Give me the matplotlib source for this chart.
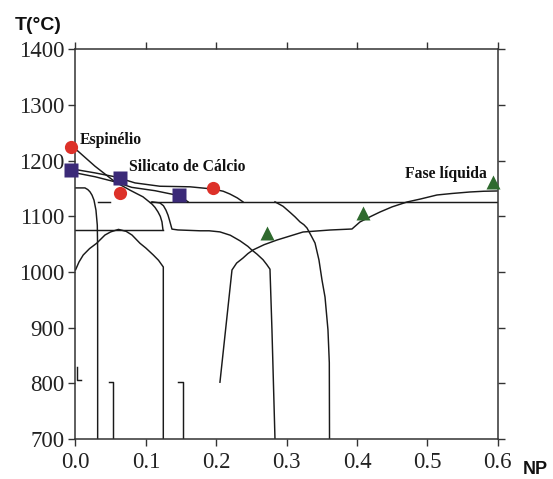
import matplotlib
matplotlib.use("Agg")
import matplotlib.pyplot as plt

# ---------------- data ----------------
x_ticks = [0.0, 0.1, 0.2, 0.3, 0.4, 0.5, 0.6]
x_tick_labels = ["0.0", "0.1", "0.2", "0.3", "0.4", "0.5", "0.6"]
y_ticks = [700, 800, 900, 1000, 1100, 1200, 1300, 1400]
y_tick_labels = ["700", "800", "900", "1000", "1100", "1200", "1300", "1400"]

# marker series
espinelio_x = [-0.006, 0.063, 0.196]
espinelio_T = [1225, 1142, 1151]
silicato_x = [-0.006, 0.063, 0.147]
silicato_T = [1183, 1169, 1138]
liquida_x = [0.272, 0.409, 0.594]
liquida_T = [1070, 1106, 1161]

# phase boundary curves
curve_esp_x = [0.0, 0.0277, 0.0561, 0.0774, 0.0959, 0.1087, 0.113, 0.1172, 0.1205, 0.1229, 0.1243]
curve_esp_T = [1221, 1190, 1162, 1147, 1135, 1122, 1116, 1108, 1100, 1090, 1076]

curve_u1_x = [0.0, 0.0277, 0.0561, 0.0846, 0.120, 0.1627, 0.1954, 0.210, 0.2195, 0.230, 0.238]
curve_u1_T = [1184, 1178, 1171, 1160, 1154, 1153, 1149, 1145, 1140, 1133, 1126]

curve_u2_x = [0.0, 0.028, 0.056, 0.080, 0.113, 0.140, 0.152, 0.160]
curve_u2_T = [1178, 1171, 1162, 1152, 1146, 1139, 1133, 1126]

curve_c_x = [0.0, 0.0135, 0.0175, 0.0206, 0.0235, 0.0263, 0.0291, 0.031, 0.0315, 0.0315]
curve_c_T = [1151, 1151, 1148, 1144, 1138, 1129, 1111, 1084, 1040, 700]

iso1126a_x = [0.0315, 0.049]
iso1126a_T = [1126, 1126]
iso1126b_x = [0.106, 0.6]
iso1126b_T = [1126, 1126]
iso1076_x = [0.0, 0.1243]
iso1076_T = [1076, 1076]

curve_e_x = [0.1087, 0.120, 0.125, 0.1286, 0.1315, 0.1336, 0.1371, 0.1456, 0.1769, 0.190,
             0.2053, 0.220, 0.2338, 0.245, 0.2501, 0.258, 0.2665, 0.272, 0.2764, 0.2792, 0.2835]
curve_e_T = [1126, 1124, 1119, 1111, 1102, 1093, 1077, 1075.5, 1074, 1074,
             1072, 1066, 1056, 1046, 1040, 1032, 1022, 1013, 1005, 896, 700]

dome_f_x = [0.0, 0.005, 0.011, 0.020, 0.030, 0.0419, 0.050, 0.0611, 0.072, 0.0803,
            0.0917, 0.100, 0.1106, 0.118, 0.1248, 0.1248]
dome_f_T = [1003.6, 1018, 1030.5, 1042, 1051.5, 1066.4, 1072, 1076.5, 1073, 1066.4,
            1051.5, 1043, 1030.5, 1021, 1009, 700]

curve_h_x = [0.2053, 0.2224, 0.229, 0.238, 0.245, 0.2522, 0.268, 0.2863, 0.3233, 0.3617,
             0.3929, 0.4042, 0.420, 0.4327, 0.450, 0.4711, 0.490, 0.5137, 0.535, 0.5606, 0.580, 0.599]
curve_h_T = [802, 1003.6, 1016, 1025, 1033, 1039.5, 1049, 1057.4, 1071.8, 1075.4,
             1077.2, 1089.8, 1100, 1107.7, 1117, 1125.7, 1131, 1138.3, 1141, 1143.7, 1145, 1145.5]

curve_i_x = [0.2835, 0.295, 0.305, 0.312, 0.319, 0.3245, 0.329, 0.335, 0.3404, 0.346,
             0.3503, 0.3546, 0.3588, 0.3607, 0.361]
curve_i_T = [1126, 1118, 1107, 1099, 1090, 1085, 1079, 1065, 1052, 1021.5,
             985.6, 955, 896, 837, 700]

small_l_x = [0.0017, 0.0017, 0.0074]
small_l_T = [829, 806, 806]
hook1_x = [0.048, 0.0537, 0.0537]
hook1_T = [803, 803, 700]
hook2_x = [0.1461, 0.1532, 0.1532]
hook2_T = [803, 803, 700]

curves = [
    (curve_esp_x, curve_esp_T), (curve_u1_x, curve_u1_T), (curve_u2_x, curve_u2_T),
    (curve_c_x, curve_c_T), (iso1126a_x, iso1126a_T), (iso1126b_x, iso1126b_T),
    (iso1076_x, iso1076_T), (curve_e_x, curve_e_T), (dome_f_x, dome_f_T),
    (curve_h_x, curve_h_T), (curve_i_x, curve_i_T), (small_l_x, small_l_T),
    (hook1_x, hook1_T), (hook2_x, hook2_T),
]

# ---------------- figure ----------------
fig = plt.figure(figsize=(5.53, 4.79), dpi=100)
ax = fig.add_axes([0.1365, 0.0835, 0.7635, 0.8136])

line_color = "#1a1a1a"
for cx, cT in curves:
    ax.plot(cx, cT, color=line_color, lw=1.05, solid_joinstyle="round")

ax.plot(espinelio_x, espinelio_T, "o", color="#dd3129", ms=9.5, mec="none",
        clip_on=False, zorder=5)
ax.plot(silicato_x, silicato_T, "s", color="#3b2a78", ms=9.5, mec="none",
        clip_on=False, zorder=5)
ax.plot(liquida_x, liquida_T, "^", color="#2f6a2e", ms=10, mec="none",
        clip_on=False, zorder=5)

ax.set_xlim(0, 0.6)
ax.set_ylim(700, 1400)

serif = ["Liberation Serif", "DejaVu Serif"]
ax.set_xticks(x_ticks)
ax.set_xticklabels(x_tick_labels, fontfamily=serif, fontsize=16.5, color="#222222")
ax.set_yticks(y_ticks)
ax.set_yticklabels(y_tick_labels, fontfamily=serif, fontsize=16.5, color="#222222")
ax.tick_params(axis="both", direction="out", length=5, width=1.0, color="#333333",
               top=True, right=True, labeltop=False, labelright=False)
ax.tick_params(axis="x", pad=4)
ax.tick_params(axis="y", pad=3)
for s in ax.spines.values():
    s.set_color("#333333")
    s.set_linewidth(1.1)

bold_serif = dict(fontfamily=serif, fontweight="bold", fontsize=11.3, color="#111111")
ax.text(0.0064, 1230, "Espinélio", ha="left", va="baseline", **bold_serif)
ax.text(0.076, 1182, "Silicato de Cálcio", ha="left", va="baseline", **bold_serif)
ax.text(0.468, 1169, "Fase líquida", ha="left", va="baseline", **bold_serif)

sans = ["Liberation Sans", "DejaVu Sans"]
fig.text(15 / 553, 1 - 30 / 479, "T(°C)", ha="left", va="baseline",
         fontfamily=sans, fontweight="bold", fontsize=14, color="#111111")
fig.text(523 / 553, 1 - 474 / 479, "NP", ha="left", va="baseline",
         fontfamily=sans, fontweight="bold", fontsize=13, color="#111111")

fig.savefig("out.png", dpi=100)
